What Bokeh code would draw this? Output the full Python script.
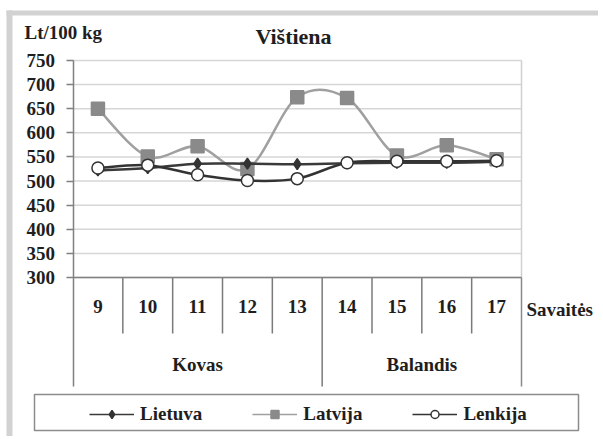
from bokeh.plotting import figure
from bokeh.models import Range1d, FixedTicker, Label, Legend, LegendItem, LinearAxis
from bokeh.embed import file_html
from bokeh.resources import INLINE
from bokeh.core.properties import value

# ---------------- data ----------------
weeks = ["9", "10", "11", "12", "13", "14", "15", "16", "17"]
months = ["Kovas", "Balandis"]
month_weeks = [5, 4]
lietuva = [522, 527, 536, 536, 535, 537, 538, 538, 540]
latvija = [650, 551, 572, 525, 674, 672, 553, 574, 545]
lenkija = [527, 533, 513, 501, 505, 538, 541, 541, 542]
y_ticks = [300, 350, 400, 450, 500, 550, 600, 650, 700, 750]
series_names = ["Lietuva", "Latvija", "Lenkija"]
title_text = "Vištiena"
unit_text = "Lt/100 kg"
xaxis_text = "Savaitės"

FONT = "Liberation Serif"
TXT = "#1e1e1e"

# ---------------- layout (pixels) ----------------
W, H = 598, 436
n = len(weeks)
PX_LEFT, PX_RIGHT = 72.5, 521.0       # plot area left/right
PX_TOP, PX_Y0 = 60.0, 277.0           # pixel rows of top and bottom tick
kx = (PX_RIGHT - PX_LEFT) / n
ky = (PX_Y0 - PX_TOP) / (y_ticks[-1] - y_ticks[0])


def dx(px):
    return (px - PX_LEFT) / kx


def dy(py):
    return y_ticks[-1] - (py - PX_TOP) / ky


p = figure(width=W, height=H, output_backend="svg", toolbar_location=None,
           x_range=Range1d(dx(0), dx(W)), y_range=Range1d(dy(H), dy(0)),
           x_axis_location=None, y_axis_location=None, min_border=0)
p.outline_line_color = None
p.background_fill_color = "white"
p.border_fill_color = "white"
p.xgrid.visible = False
p.ygrid.visible = False

ymin, ymax = y_ticks[0], y_ticks[-1]
y_bottom = dy(386)     # bottom of the category table
sep_bottom = dy(333)   # bottom of week separators

# outer grey panel border of the original
p.quad(left=[dx(6), dx(6)], right=[dx(12), dx(W)], top=[dy(10), dy(10)], bottom=[dy(H), dy(15)],
       fill_color="#d2d2d2", line_color=None)

# grid lines
p.segment(x0=[0] * len(y_ticks), x1=[n] * len(y_ticks), y0=y_ticks, y1=y_ticks,
          line_color="#d6d6d6", line_width=1.5)

# y axis
ax = LinearAxis(fixed_location=0, ticker=FixedTicker(ticks=y_ticks), bounds=(y_bottom, ymax))
ax.axis_line_color = "#808080"
ax.axis_line_width = 1.5
ax.major_tick_line_color = "#808080"
ax.major_tick_line_width = 1.5
ax.major_tick_out = 7
ax.major_tick_in = 0
ax.minor_tick_line_color = None
ax.major_label_text_font = FONT
ax.major_label_text_font_size = "19px"
ax.major_label_text_font_style = "bold"
ax.major_label_text_color = TXT
ax.major_label_standoff = 11
p.add_layout(ax, "left")

centers = [i + 0.5 for i in range(n)]

# category table
bounds = [0]
for k in month_weeks:
    bounds.append(bounds[-1] + k)
inner = [i for i in range(1, n) if i not in bounds]
p.segment(x0=inner, y0=[ymin] * len(inner), x1=inner, y1=[sep_bottom] * len(inner),
          line_color="#7a7a7a", line_width=1.5)
mid = bounds[1:-1]
p.segment(x0=mid, y0=[ymin] * len(mid), x1=mid, y1=[y_bottom] * len(mid),
          line_color="#7a7a7a", line_width=1.5)
p.segment(x0=[n], y0=[ymax], x1=[n], y1=[ymin], line_color="#d0d0d0", line_width=1.5)
p.segment(x0=[n], y0=[ymin], x1=[n], y1=[y_bottom], line_color="#8a8a8a", line_width=1.5)
p.segment(x0=[0], y0=[ymin], x1=[n], y1=[ymin], line_color="#808080", line_width=1.5)

p.text(x=centers, y=[dy(306)] * n, text=weeks, text_font=value(FONT), text_font_size="19px",
       text_font_style="bold", text_color=TXT, text_align="center", text_baseline="middle")
mcenters = [(bounds[i] + bounds[i + 1]) / 2 for i in range(len(months))]
p.text(x=mcenters, y=[dy(364)] * len(months), text=months, text_font=value(FONT), text_font_size="19px",
       text_font_style="bold", text_color=TXT, text_align="center", text_baseline="middle")


def bez(vals):
    m = len(vals)
    xs = centers
    d = dict(x0=[], y0=[], x1=[], y1=[], cx0=[], cy0=[], cx1=[], cy1=[])
    for i in range(m - 1):
        ip = max(i - 1, 0)
        inn = min(i + 2, m - 1)
        d["x0"].append(xs[i]); d["y0"].append(vals[i])
        d["x1"].append(xs[i + 1]); d["y1"].append(vals[i + 1])
        d["cx0"].append(xs[i] + (xs[i + 1] - xs[ip]) / 6)
        d["cy0"].append(vals[i] + (vals[i + 1] - vals[ip]) / 6)
        d["cx1"].append(xs[i + 1] - (xs[inn] - xs[i]) / 6)
        d["cy1"].append(vals[i + 1] - (vals[inn] - vals[i]) / 6)
    return d


styles = {
    "Latvija": dict(vals=latvija, line="#a0a0a0", marker="square", size=13, fill="#8a8a8a", mline="#8a8a8a"),
    "Lietuva": dict(vals=lietuva, line="#3a3a3a", marker="diamond", size=11, fill="#333333", mline="#333333"),
    "Lenkija": dict(vals=lenkija, line="#333333", marker="circle", size=12, fill="white", mline="#333333"),
}
items = {}
for name in ["Latvija", "Lietuva", "Lenkija"]:
    s = styles[name]
    p.bezier(**bez(s["vals"]), line_color=s["line"], line_width=2.5)
    lr = p.line(centers, s["vals"], line_color=s["line"], line_width=1.5, visible=False)
    sr = p.scatter(centers, s["vals"], marker=s["marker"], size=s["size"], fill_color=s["fill"],
                   line_color=s["mline"], line_width=1.5)
    items[name] = LegendItem(label=name, renderers=[lr, sr])

# legend box
p.quad(left=[dx(34)], right=[dx(578)], top=[dy(394)], bottom=[dy(430)], fill_color="white",
       line_color="#8c8c8c", line_width=1.5)

legend = Legend(items=[items[nm] for nm in series_names], orientation="horizontal",
                location=(89, H - 425),
                padding=8, spacing=50, glyph_width=45, glyph_height=20, label_standoff=6, label_height=20,
                label_text_font=FONT, label_text_font_size="19px", label_text_font_style="bold",
                label_text_color=TXT, border_line_color=None, background_fill_alpha=0, margin=0)
p.add_layout(legend)

p.add_layout(Label(x=dx(24), y=dy(32), text=unit_text, text_align="left",
                   text_baseline="middle", text_font=FONT, text_font_size="19px", text_font_style="bold",
                   text_color=TXT))
p.add_layout(Label(x=dx(293), y=dy(36), text=title_text, text_align="center",
                   text_baseline="middle", text_font=FONT, text_font_size="22px", text_font_style="bold",
                   text_color=TXT))
p.add_layout(Label(x=dx(526), y=dy(309), text=xaxis_text, text_align="left",
                   text_baseline="middle", text_font=FONT, text_font_size="19px", text_font_style="bold",
                   text_color=TXT))

open("out.html", "w").write(file_html(p, INLINE))
